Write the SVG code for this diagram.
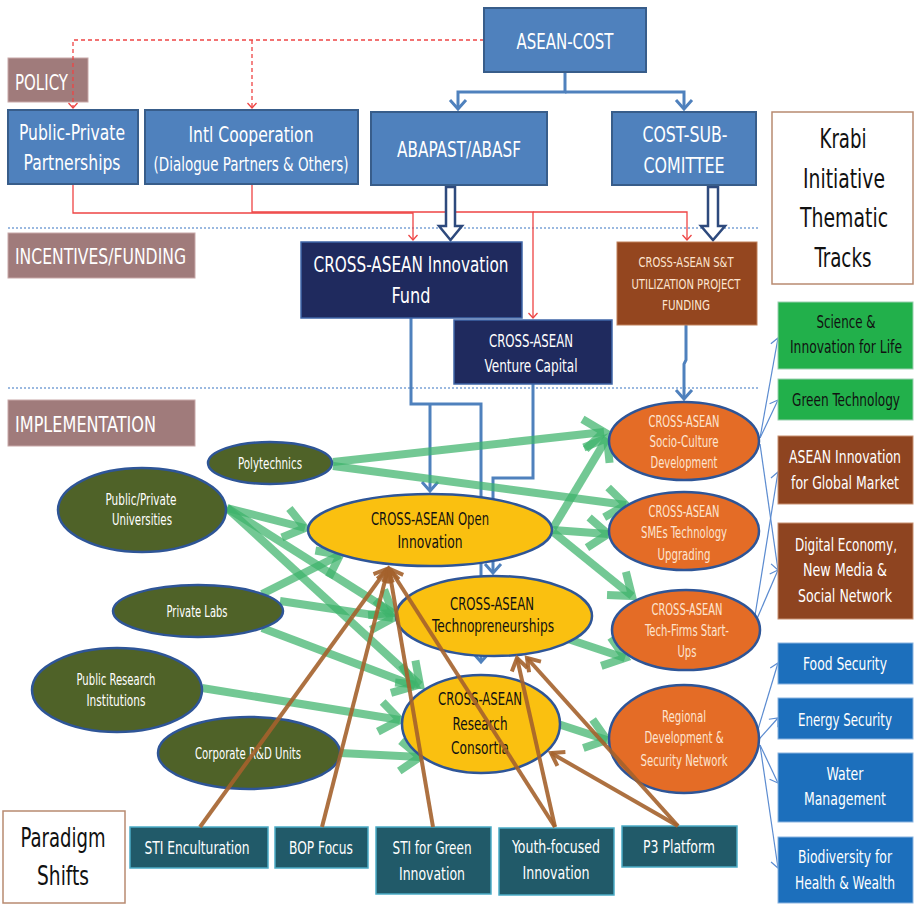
<svg xmlns="http://www.w3.org/2000/svg" width="914" height="904" viewBox="0 0 914 904">
<style>
text{font-family:'Liberation Sans Narrow','DejaVu Sans Condensed','Liberation Sans',sans-serif;text-anchor:middle}
.w{fill:#ffffff}
.k{fill:#111111}
.pe{fill:#fde4d0}
.lbl{fill:#ffffff;text-anchor:start}
.mb{fill:#4F81BD;stroke:#385D8A;stroke-width:2}
.nv{fill:#1F2A5E;stroke:#3F66A8;stroke-width:1.5}
.br{fill:#94461F;stroke:#C0805A;stroke-width:1}
.tag{fill:#A07B7B;stroke:#C8A8A8;stroke-width:1}
.ol{fill:#4F6228;stroke:#2E5597;stroke-width:2.5}
.ye{fill:#FAC010;stroke:#2E5597;stroke-width:2.5}
.or{fill:#E46C26;stroke:#2E5597;stroke-width:2.5}
.gb{fill:#22B04B;stroke:#9AD0B0;stroke-width:1}
.rb{fill:#8E4420;stroke:#C89070;stroke-width:1}
.bb{fill:#1C6FBC;stroke:#8AB4E0;stroke-width:1}
.tb{fill:#215A69;stroke:#4BACC6;stroke-width:1.5}
.wb{fill:#ffffff;stroke:#B88A70;stroke-width:1.5}
.blue{fill:none;stroke:#4F81BD;stroke-width:3}
.red{fill:none;stroke:#EE4444;stroke-width:1.3}
.redd{fill:none;stroke:#EE4444;stroke-width:1.3;stroke-dasharray:4,3}
.grn{fill:none;stroke:#3DB36B;stroke-width:8;stroke-opacity:0.72}
.brn{fill:none;stroke:#A4622C;stroke-width:4;stroke-opacity:0.9}
.thin{fill:none;stroke:#5B8BD0;stroke-width:1.2}
.dot{fill:none;stroke:#7BA3D6;stroke-width:1.5;stroke-dasharray:2,2}
.hol{fill:#ffffff;stroke:#2E4A7D;stroke-width:2.5}
</style>
<defs>
<marker id="mBlue" markerUnits="userSpaceOnUse" markerWidth="24" markerHeight="24" refX="0" refY="0" viewBox="-12 -12 24 24" orient="auto"><path d="M-9,-8 L0,0 L-9,8" fill="none" stroke="#4F81BD" stroke-width="3"/></marker>
<marker id="mRed" markerUnits="userSpaceOnUse" markerWidth="14" markerHeight="14" refX="0" refY="0" viewBox="-7 -7 14 14" orient="auto"><path d="M-5,-4.5 L0,0 L-5,4.5" fill="none" stroke="#EE4444" stroke-width="1.3"/></marker>
<marker id="mGreen" markerUnits="userSpaceOnUse" markerWidth="50" markerHeight="50" refX="0" refY="0" viewBox="-25 -25 50 50" orient="auto"><path d="M-20,-15 L0,0 L-20,15" fill="none" stroke="#3DB36B" stroke-opacity="0.72" stroke-width="8"/></marker>
<marker id="mBrown" markerUnits="userSpaceOnUse" markerWidth="30" markerHeight="30" refX="0" refY="0" viewBox="-15 -15 30 30" orient="auto"><path d="M-12,-8 L0,0 L-12,8" fill="none" stroke="#A4622C" stroke-opacity="0.9" stroke-width="4"/></marker>
<marker id="mThin" markerUnits="userSpaceOnUse" markerWidth="16" markerHeight="16" refX="0" refY="0" viewBox="-8 -8 16 16" orient="auto"><path d="M-7,-6 L0,0 L-7,6" fill="none" stroke="#5B8BD0" stroke-width="1.2"/></marker>
</defs>

<g id="separators">
<line class="dot" x1="8" y1="228" x2="760" y2="228"/>
<line class="dot" x1="8" y1="388" x2="760" y2="388"/>
</g>

<g id="lbl-policy"><rect class="tag" x="8" y="58" width="80" height="44"/><text class="lbl" x="15" y="90" font-size="21" textLength="53" lengthAdjust="spacingAndGlyphs">POLICY</text></g>
<g id="lbl-incentives"><rect class="tag" x="8" y="233" width="187" height="45"/><text class="lbl" x="15" y="264" font-size="21" textLength="171" lengthAdjust="spacingAndGlyphs">INCENTIVES/FUNDING</text></g>
<g id="lbl-impl"><rect class="tag" x="8" y="400" width="187" height="46"/><text class="lbl" x="15" y="432" font-size="21" textLength="141" lengthAdjust="spacingAndGlyphs">IMPLEMENTATION</text></g>

<g id="connectors">
<path class="redd" d="M484,40 H73 V108" marker-end="url(#mRed)"/>
<path class="redd" d="M252,40 V108" marker-end="url(#mRed)"/>
<path class="red" d="M73,184 V213 H413 V240" marker-end="url(#mRed)"/>
<path class="red" d="M252,184 V212 H533 V318" marker-end="url(#mRed)"/>
<path class="red" d="M533,212 H687 V240" marker-end="url(#mRed)"/>
<path class="blue" d="M565,72 V92 H458 V109" marker-end="url(#mBlue)"/>
<path class="blue" d="M565,92 H684 V109" marker-end="url(#mBlue)"/>
<polygon class="hol" points="446,187 455,187 455,226 462,226 450.5,240 439,226 446,226"/>
<polygon class="hol" points="708,187 718,187 718,226 725,226 713,240 701,226 708,226"/>
<path class="blue" d="M411,318 V404 H481 V662" marker-end="url(#mBlue)"/>
<path class="blue" d="M430,404 V491" marker-end="url(#mBlue)"/>
<path class="blue" d="M533,384 V478 H493 V573" marker-end="url(#mBlue)"/>
<path class="blue" d="M686,325 V360 L684,364 V399" marker-end="url(#mBlue)"/>
<line class="grn" x1="333" y1="462" x2="604" y2="432" marker-end="url(#mGreen)"/>
<line class="grn" x1="333" y1="466" x2="626" y2="505" marker-end="url(#mGreen)"/>
<line class="grn" x1="227" y1="508" x2="305" y2="528" marker-end="url(#mGreen)"/>
<line class="grn" x1="227" y1="508" x2="393" y2="613" marker-end="url(#mGreen)"/>
<line class="grn" x1="227" y1="508" x2="420" y2="685" marker-end="url(#mGreen)"/>
<line class="grn" x1="262" y1="594" x2="340" y2="555" marker-end="url(#mGreen)"/>
<line class="grn" x1="280" y1="601" x2="393" y2="618" marker-end="url(#mGreen)"/>
<line class="grn" x1="262" y1="628" x2="415" y2="686" marker-end="url(#mGreen)"/>
<line class="grn" x1="202" y1="688" x2="400" y2="720" marker-end="url(#mGreen)"/>
<line class="grn" x1="340" y1="753" x2="420" y2="757" marker-end="url(#mGreen)"/>
<line class="grn" x1="553" y1="528" x2="607" y2="438" marker-end="url(#mGreen)"/>
<line class="grn" x1="553" y1="530" x2="608" y2="534" marker-end="url(#mGreen)"/>
<line class="grn" x1="553" y1="532" x2="632" y2="596" marker-end="url(#mGreen)"/>
<line class="grn" x1="565" y1="638" x2="625" y2="658" marker-end="url(#mGreen)"/>
<line class="grn" x1="558" y1="724" x2="607" y2="740" marker-end="url(#mGreen)"/>
<line class="thin" x1="760" y1="438" x2="778" y2="338" marker-end="url(#mThin)"/>
<line class="thin" x1="760" y1="438" x2="778" y2="400" marker-end="url(#mThin)"/>
<line class="thin" x1="760" y1="444" x2="778" y2="570" marker-end="url(#mThin)"/>
<line class="thin" x1="753" y1="628" x2="778" y2="472" marker-end="url(#mThin)"/>
<line class="thin" x1="753" y1="628" x2="778" y2="570" marker-end="url(#mThin)"/>
<line class="thin" x1="753" y1="746" x2="778" y2="663" marker-end="url(#mThin)"/>
<line class="thin" x1="753" y1="746" x2="778" y2="718" marker-end="url(#mThin)"/>
<line class="thin" x1="760" y1="745" x2="778" y2="783" marker-end="url(#mThin)"/>
<line class="thin" x1="760" y1="745" x2="778" y2="868" marker-end="url(#mThin)"/>
</g>

<g id="asean-cost"><rect class="mb" x="484" y="8" width="162" height="64"/><text class="w" x="565" y="49" font-size="21" textLength="97" lengthAdjust="spacingAndGlyphs">ASEAN-COST</text></g>
<g id="ppp"><rect class="mb" x="8" y="110" width="130" height="74"/><text class="w" x="72" y="140" font-size="21" textLength="106" lengthAdjust="spacingAndGlyphs">Public-Private</text><text class="w" x="72" y="170" font-size="21" textLength="97" lengthAdjust="spacingAndGlyphs">Partnerships</text></g>
<g id="intl"><rect class="mb" x="145" y="110" width="213" height="74"/><text class="w" x="251" y="142" font-size="21" textLength="125" lengthAdjust="spacingAndGlyphs">Intl Cooperation</text><text class="w" x="251" y="171" font-size="19" textLength="195" lengthAdjust="spacingAndGlyphs">(Dialogue Partners &amp; Others)</text></g>
<g id="abapast"><rect class="mb" x="371" y="112" width="176" height="73"/><text class="w" x="459" y="157" font-size="21" textLength="124" lengthAdjust="spacingAndGlyphs">ABAPAST/ABASF</text></g>
<g id="costsub"><rect class="mb" x="612" y="112" width="144" height="73"/><text class="w" x="685" y="142" font-size="21" textLength="85" lengthAdjust="spacingAndGlyphs">COST-SUB-</text><text class="w" x="684" y="173" font-size="21" textLength="81" lengthAdjust="spacingAndGlyphs">COMITTEE</text></g>
<g id="krabi"><rect class="wb" x="772" y="112" width="141" height="172"/><text class="k" x="843" y="148" font-size="26" textLength="47" lengthAdjust="spacingAndGlyphs">Krabi</text><text class="k" x="844" y="188" font-size="26" textLength="82" lengthAdjust="spacingAndGlyphs">Initiative</text><text class="k" x="844" y="227" font-size="26" textLength="88" lengthAdjust="spacingAndGlyphs">Thematic</text><text class="k" x="843" y="267" font-size="26" textLength="57" lengthAdjust="spacingAndGlyphs">Tracks</text></g>

<g id="fund"><rect class="nv" x="301" y="242" width="221" height="76"/><text class="w" x="411" y="272" font-size="21" textLength="195" lengthAdjust="spacingAndGlyphs">CROSS-ASEAN Innovation</text><text class="w" x="411" y="303" font-size="21" textLength="39" lengthAdjust="spacingAndGlyphs">Fund</text></g>
<g id="venture"><rect class="nv" x="454" y="320" width="158" height="64"/><text class="w" x="531" y="347" font-size="18" textLength="84" lengthAdjust="spacingAndGlyphs">CROSS-ASEAN</text><text class="w" x="531" y="372" font-size="18" textLength="93" lengthAdjust="spacingAndGlyphs">Venture Capital</text></g>
<g id="stfund"><rect class="br" x="617" y="242" width="140" height="83"/><text class="pe" x="686" y="267" font-size="14.5" textLength="95" lengthAdjust="spacingAndGlyphs">CROSS-ASEAN S&amp;T</text><text class="pe" x="686" y="289" font-size="14.5" textLength="109" lengthAdjust="spacingAndGlyphs">UTILIZATION PROJECT</text><text class="pe" x="686" y="310" font-size="14.5" textLength="48" lengthAdjust="spacingAndGlyphs">FUNDING</text></g>

<g id="poly"><ellipse class="ol" cx="270" cy="463" rx="62" ry="21"/><text class="w" x="270" y="469" font-size="15" textLength="64" lengthAdjust="spacingAndGlyphs">Polytechnics</text></g>
<g id="univ"><ellipse class="ol" cx="142" cy="510" rx="84" ry="42"/><text class="w" x="141" y="505" font-size="15" textLength="71" lengthAdjust="spacingAndGlyphs">Public/Private</text><text class="w" x="142" y="525" font-size="15" textLength="60" lengthAdjust="spacingAndGlyphs">Universities</text></g>
<g id="labs"><ellipse class="ol" cx="198" cy="611" rx="85" ry="26"/><text class="w" x="197" y="617" font-size="15" textLength="61" lengthAdjust="spacingAndGlyphs">Private Labs</text></g>
<g id="pri"><ellipse class="ol" cx="117" cy="690" rx="85" ry="42"/><text class="w" x="116" y="685" font-size="15" textLength="79" lengthAdjust="spacingAndGlyphs">Public Research</text><text class="w" x="116" y="706" font-size="15" textLength="59" lengthAdjust="spacingAndGlyphs">Institutions</text></g>
<g id="crd"><ellipse class="ol" cx="249" cy="753" rx="91" ry="36"/><text class="w" x="248" y="759" font-size="15" textLength="106" lengthAdjust="spacingAndGlyphs">Corporate R&amp;D Units</text></g>

<g id="openinno"><ellipse class="ye" cx="430" cy="530" rx="122" ry="36"/><text class="k" x="430" y="525" font-size="18" textLength="118" lengthAdjust="spacingAndGlyphs">CROSS-ASEAN Open</text><text class="k" x="430" y="548" font-size="18" textLength="65" lengthAdjust="spacingAndGlyphs">Innovation</text></g>
<g id="techno"><ellipse class="ye" cx="494" cy="616" rx="98" ry="40"/><text class="k" x="492" y="610" font-size="18" textLength="84" lengthAdjust="spacingAndGlyphs">CROSS-ASEAN</text><text class="k" x="493" y="632" font-size="18" textLength="122" lengthAdjust="spacingAndGlyphs">Technopreneurships</text></g>
<g id="research"><ellipse class="ye" cx="481" cy="724" rx="79" ry="49"/><text class="k" x="480" y="705" font-size="18" textLength="84" lengthAdjust="spacingAndGlyphs">CROSS-ASEAN</text><text class="k" x="480" y="730" font-size="18" textLength="55" lengthAdjust="spacingAndGlyphs">Research</text><text class="k" x="480" y="754" font-size="18" textLength="58" lengthAdjust="spacingAndGlyphs">Consortia</text></g>

<g id="socio"><ellipse class="or" cx="684" cy="441" rx="75" ry="39"/><text class="pe" x="684" y="427" font-size="15" textLength="71" lengthAdjust="spacingAndGlyphs">CROSS-ASEAN</text><text class="pe" x="684" y="447" font-size="15" textLength="69" lengthAdjust="spacingAndGlyphs">Socio-Culture</text><text class="pe" x="684" y="468" font-size="15" textLength="67" lengthAdjust="spacingAndGlyphs">Development</text></g>
<g id="smes"><ellipse class="or" cx="684" cy="531" rx="75" ry="39"/><text class="pe" x="684" y="517" font-size="15" textLength="71" lengthAdjust="spacingAndGlyphs">CROSS-ASEAN</text><text class="pe" x="684" y="538" font-size="15" textLength="86" lengthAdjust="spacingAndGlyphs">SMEs Technology</text><text class="pe" x="684" y="560" font-size="15" textLength="53" lengthAdjust="spacingAndGlyphs">Upgrading</text></g>
<g id="techfirms"><ellipse class="or" cx="686" cy="630" rx="74" ry="40"/><text class="pe" x="687" y="615" font-size="15" textLength="71" lengthAdjust="spacingAndGlyphs">CROSS-ASEAN</text><text class="pe" x="687" y="636" font-size="15" textLength="84" lengthAdjust="spacingAndGlyphs">Tech-Firms Start-</text><text class="pe" x="687" y="657" font-size="15" textLength="19" lengthAdjust="spacingAndGlyphs">Ups</text></g>
<g id="regional"><ellipse class="or" cx="684" cy="739" rx="75" ry="54"/><text class="pe" x="684" y="722" font-size="15" textLength="44" lengthAdjust="spacingAndGlyphs">Regional</text><text class="pe" x="684" y="743" font-size="15" textLength="79" lengthAdjust="spacingAndGlyphs">Development &amp;</text><text class="pe" x="684" y="766" font-size="15" textLength="87" lengthAdjust="spacingAndGlyphs">Security Network</text></g>

<g id="t-science"><rect class="gb" x="778" y="302" width="135" height="67"/><text class="k" x="846" y="328" font-size="18" textLength="59" lengthAdjust="spacingAndGlyphs">Science &amp;</text><text class="k" x="846" y="353" font-size="18" textLength="112" lengthAdjust="spacingAndGlyphs">Innovation for Life</text></g>
<g id="t-green"><rect class="gb" x="778" y="379" width="135" height="41"/><text class="k" x="846" y="406" font-size="18" textLength="108" lengthAdjust="spacingAndGlyphs">Green Technology</text></g>
<g id="t-asean"><rect class="rb" x="778" y="436" width="135" height="68"/><text class="w" x="845" y="463" font-size="18" textLength="112" lengthAdjust="spacingAndGlyphs">ASEAN Innovation</text><text class="w" x="845" y="489" font-size="18" textLength="108" lengthAdjust="spacingAndGlyphs">for Global Market</text></g>
<g id="t-digital"><rect class="rb" x="778" y="523" width="135" height="96"/><text class="w" x="846" y="551" font-size="18" textLength="102" lengthAdjust="spacingAndGlyphs">Digital Economy,</text><text class="w" x="845" y="576" font-size="18" textLength="84" lengthAdjust="spacingAndGlyphs">New Media &amp;</text><text class="w" x="845" y="602" font-size="18" textLength="94" lengthAdjust="spacingAndGlyphs">Social Network</text></g>
<g id="t-food"><rect class="bb" x="778" y="643" width="135" height="41"/><text class="w" x="845" y="670" font-size="18" textLength="84" lengthAdjust="spacingAndGlyphs">Food Security</text></g>
<g id="t-energy"><rect class="bb" x="778" y="698" width="135" height="41"/><text class="w" x="845" y="726" font-size="18" textLength="94" lengthAdjust="spacingAndGlyphs">Energy Security</text></g>
<g id="t-water"><rect class="bb" x="778" y="753" width="135" height="69"/><text class="w" x="845" y="780" font-size="18" textLength="37" lengthAdjust="spacingAndGlyphs">Water</text><text class="w" x="845" y="805" font-size="18" textLength="82" lengthAdjust="spacingAndGlyphs">Management</text></g>
<g id="t-bio"><rect class="bb" x="778" y="837" width="135" height="66"/><text class="w" x="845" y="863" font-size="18" textLength="94" lengthAdjust="spacingAndGlyphs">Biodiversity for</text><text class="w" x="845" y="889" font-size="18" textLength="100" lengthAdjust="spacingAndGlyphs">Health &amp; Wealth</text></g>

<g id="paradigm"><rect class="wb" x="3" y="811" width="122" height="92"/><text class="k" x="63" y="847" font-size="26" textLength="85" lengthAdjust="spacingAndGlyphs">Paradigm</text><text class="k" x="63" y="885" font-size="26" textLength="52" lengthAdjust="spacingAndGlyphs">Shifts</text></g>
<g id="p-sti"><rect class="tb" x="130" y="827" width="138" height="41"/><text class="w" x="197" y="854" font-size="18" textLength="105" lengthAdjust="spacingAndGlyphs">STI Enculturation</text></g>
<g id="p-bop"><rect class="tb" x="275" y="827" width="93" height="41"/><text class="w" x="321" y="854" font-size="18" textLength="64" lengthAdjust="spacingAndGlyphs">BOP Focus</text></g>
<g id="p-green"><rect class="tb" x="376" y="827" width="115" height="67"/><text class="w" x="432" y="854" font-size="18" textLength="79" lengthAdjust="spacingAndGlyphs">STI for Green</text><text class="w" x="432" y="880" font-size="18" textLength="66" lengthAdjust="spacingAndGlyphs">Innovation</text></g>
<g id="p-youth"><rect class="tb" x="499" y="828" width="115" height="67"/><text class="w" x="556" y="853" font-size="18" textLength="88" lengthAdjust="spacingAndGlyphs">Youth-focused</text><text class="w" x="556" y="879" font-size="18" textLength="67" lengthAdjust="spacingAndGlyphs">Innovation</text></g>
<g id="p-p3"><rect class="tb" x="622" y="826" width="115" height="41"/><text class="w" x="679" y="853" font-size="18" textLength="72" lengthAdjust="spacingAndGlyphs">P3 Platform</text></g>

<g id="paradigm-links">
<line class="brn" x1="200" y1="827" x2="387" y2="569" marker-end="url(#mBrown)"/>
<line class="brn" x1="322" y1="827" x2="388" y2="569" marker-end="url(#mBrown)"/>
<line class="brn" x1="433" y1="827" x2="389" y2="569" marker-end="url(#mBrown)"/>
<line class="brn" x1="555" y1="827" x2="390" y2="569" marker-end="url(#mBrown)"/>
<line class="brn" x1="555" y1="827" x2="517" y2="658" marker-end="url(#mBrown)"/>
<line class="brn" x1="678" y1="826" x2="527" y2="658" marker-end="url(#mBrown)"/>
<line class="brn" x1="678" y1="826" x2="551" y2="753" marker-end="url(#mBrown)"/>
</g>
</svg>
